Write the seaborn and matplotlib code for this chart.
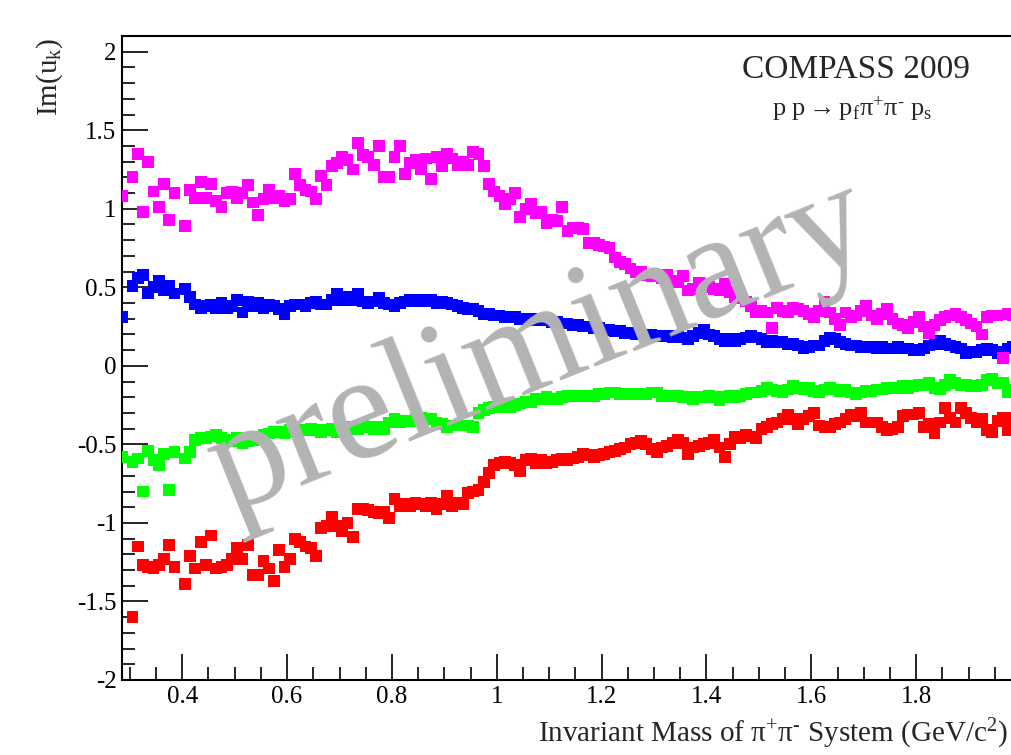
import numpy as np
import pandas as pd
import matplotlib
matplotlib.use("Agg")
import matplotlib.pyplot as plt
import seaborn as sns
from matplotlib.ticker import MultipleLocator, FixedLocator, FuncFormatter

nan = np.nan

# bin centres of the pi+ pi- invariant mass (10 MeV bins)
mass = np.round(np.arange(0.285, 2.0, 0.01), 3)
x_ticks = [0.4, 0.6, 0.8, 1.0, 1.2, 1.4, 1.6, 1.8]

magenta_vals = [
    1.08, nan, 1.20, 1.35, 0.98, 1.30, 1.11, 1.01, 1.16, 0.93,
    1.10, nan, 0.89, 1.12, 1.07, 1.17, 1.07, 1.16, 1.05, 1.01,
    1.10, 1.11, 1.07, 1.10, 1.15, 1.04, 0.96, 1.06, 1.12, 1.07,
    1.08, 1.05, 1.06, 1.22, 1.15, 1.12, 1.11, 1.06, 1.21, 1.15,
    1.27, 1.29, 1.33, 1.31, 1.25, 1.42, 1.34, 1.33, 1.28, 1.40,
    1.20, 1.20, 1.33, 1.40, 1.22, 1.29, 1.31, 1.25, 1.32, 1.19,
    1.33, 1.27, 1.35, 1.32, 1.28, 1.30, 1.28, 1.36, 1.35, 1.27,
    1.16, 1.11, 1.08, 1.03, 1.06, 1.10, 0.95, 1.00, 1.03, 0.97,
    0.98, 0.91, 0.93, 0.92, 1.01, 0.86, 0.88, 0.88, 0.87, 0.78,
    0.78, 0.77, 0.76, 0.75, 0.69, 0.66, 0.65, 0.62, 0.60, 0.60,
    0.58, 0.57, 0.57, 0.56, 0.58, 0.54, 0.53, 0.57, 0.48, 0.49,
    0.53, 0.52, 0.50, 0.49, 0.48, 0.52, 0.47, 0.44, 0.43, 0.41,
    0.38, 0.34, 0.35, 0.34, 0.24, 0.37, 0.35, 0.34, 0.37, 0.36,
    0.35, 0.33, 0.31, 0.35, 0.41, 0.34, 0.30, 0.26, 0.34, 0.31,
    0.32, 0.35, 0.38, 0.32, 0.30, 0.33, 0.36, 0.30, 0.27, 0.26,
    0.24, 0.28, 0.31, 0.25, 0.21, 0.26, 0.29, 0.31, 0.32, 0.33,
    0.31, 0.29, 0.27, 0.25, 0.20, 0.31, 0.32, 0.32, 0.05, 0.33,
    0.32, 0.33,
]

blue_vals = [
    0.31, nan, 0.51, 0.56, 0.58, 0.46, 0.50, 0.54, 0.48, 0.51,
    0.46, nan, 0.49, 0.44, 0.39, 0.37, 0.38, 0.39, 0.37, 0.40,
    0.37, 0.38, 0.42, 0.34, 0.41, 0.38, 0.40, 0.37, 0.39, 0.38,
    0.36, 0.33, 0.38, 0.39, 0.39, 0.38, 0.40, 0.41, 0.39, 0.39,
    0.42, 0.46, 0.42, 0.44, 0.42, 0.46, 0.41, 0.40, 0.41, 0.43,
    0.40, 0.39, 0.38, 0.40, 0.41, 0.42, 0.41, 0.42, 0.41, 0.42,
    0.40, 0.41, 0.40, 0.39, 0.38, 0.37, 0.36, 0.36, 0.35, 0.33,
    0.33, 0.32, 0.32, 0.31, 0.31, 0.31, 0.30, 0.30, 0.30, 0.29,
    0.29, 0.29, 0.28, 0.28, 0.27, 0.27, 0.26, 0.26, 0.25, 0.25,
    0.24, 0.24, 0.23, 0.23, 0.22, 0.22, 0.21, 0.21, 0.20, 0.20,
    0.20, 0.20, 0.19, 0.19, 0.19, 0.18, 0.19, 0.18, 0.17, 0.19,
    0.21, 0.23, 0.20, 0.19, 0.17, 0.16, 0.17, 0.16, 0.17, 0.18,
    0.19, 0.18, 0.17, 0.15, 0.16, 0.15, 0.15, 0.14, 0.14, 0.13,
    0.11, 0.12, 0.13, 0.13, 0.16, 0.18, 0.17, 0.15, 0.14, 0.13,
    0.13, 0.12, 0.12, 0.12, 0.11, 0.12, 0.11, 0.11, 0.12, 0.11,
    0.11, 0.10, 0.10, 0.11, 0.13, 0.14, 0.16, 0.14, 0.13, 0.12,
    0.11, 0.08, 0.09, 0.09, 0.10, 0.11, 0.10, 0.08, 0.09, 0.11,
    0.12, 0.11,
]

green_vals = [
    -0.58, nan, -0.61, -0.59, -0.80, -0.54, -0.60, -0.63, -0.56, -0.79,
    -0.55, nan, -0.59, -0.55, -0.47, -0.46, -0.46, -0.45, -0.44, -0.46,
    -0.47, -0.48, -0.46, -0.49, -0.48, -0.47, -0.45, -0.44, -0.43, -0.42,
    -0.42, -0.43, -0.41, -0.42, -0.41, -0.41, -0.40, -0.41, -0.42, -0.41,
    -0.40, -0.42, -0.41, -0.40, -0.39, -0.40, -0.38, -0.39, -0.40, -0.39,
    -0.40, -0.36, -0.34, -0.36, -0.35, -0.35, -0.34, -0.33, -0.34, -0.34,
    -0.36, -0.37, -0.39, -0.38, -0.38, -0.38, -0.38, -0.39, -0.30, -0.28,
    -0.27, -0.26, -0.25, -0.26, -0.26, -0.25, -0.24, -0.23, -0.23, -0.21,
    -0.21, -0.20, -0.21, -0.21, -0.20, -0.19, -0.19, -0.19, -0.19, -0.19,
    -0.19, -0.18, -0.18, -0.17, -0.17, -0.18, -0.18, -0.18, -0.18, -0.18,
    -0.18, -0.17, -0.17, -0.19, -0.19, -0.19, -0.19, -0.20, -0.20, -0.21,
    -0.20, -0.20, -0.19, -0.20, -0.22, -0.20, -0.19, -0.20, -0.19, -0.18,
    -0.17, -0.17, -0.16, -0.14, -0.15, -0.16, -0.17, -0.15, -0.13, -0.14,
    -0.15, -0.14, -0.16, -0.17, -0.15, -0.14, -0.15, -0.16, -0.15, -0.17,
    -0.18, -0.17, -0.16, -0.16, -0.15, -0.15, -0.14, -0.14, -0.14, -0.13,
    -0.14, -0.13, -0.12, -0.12, -0.11, -0.14, -0.15, -0.12, -0.09, -0.11,
    -0.12, -0.12, -0.13, -0.13, -0.12, -0.09, -0.08, -0.11, -0.11, -0.17,
    -0.15, -0.14,
]

red_vals = [
    nan, nan, -1.60, -1.15, -1.27, -1.28, -1.29, -1.27, -1.23, -1.14,
    -1.28, nan, -1.39, -1.21, -1.29, -1.12, -1.27, -1.08, -1.29, -1.28,
    -1.27, -1.23, -1.16, -1.23, -1.14, -1.33, -1.33, -1.24, -1.29, -1.37,
    -1.17, -1.28, -1.23, -1.10, -1.12, -1.15, -1.16, -1.21, -1.03, -1.02,
    -0.96, -1.02, -1.05, -1.00, -1.09, -0.91, -0.91, -0.92, -0.93, -0.94,
    -0.93, -0.97, -0.85, -0.89, -0.88, -0.89, -0.87, -0.88, -0.89, -0.87,
    -0.91, -0.88, -0.83, -0.89, -0.87, -0.88, -0.81, -0.80, -0.79, -0.74,
    -0.68, -0.63, -0.62, -0.61, -0.62, -0.63, -0.67, -0.60, -0.59, -0.62,
    -0.60, -0.62, -0.61, -0.60, -0.59, -0.60, -0.59, -0.58, -0.56, -0.57,
    -0.58, -0.57, -0.56, -0.55, -0.54, -0.53, -0.52, -0.50, -0.49, -0.48,
    -0.50, -0.53, -0.55, -0.52, -0.51, -0.49, -0.47, -0.49, -0.56, -0.52,
    -0.51, -0.50, -0.49, -0.47, -0.52, -0.58, -0.50, -0.45, -0.46, -0.44,
    -0.45, -0.46, -0.40, -0.39, -0.37, -0.36, -0.34, -0.31, -0.34, -0.37,
    -0.34, -0.32, -0.30, -0.38, -0.39, -0.39, -0.37, -0.36, -0.34, -0.31,
    -0.32, -0.30, -0.36, -0.36, -0.36, -0.39, -0.41, -0.40, -0.39, -0.32,
    -0.31, -0.31, -0.30, -0.39, -0.37, -0.43, -0.36, -0.27, -0.33, -0.36,
    -0.27, -0.30, -0.33, -0.36, -0.34, -0.41, -0.42, -0.35, -0.33, -0.41,
    -0.33, -0.32,
]

series_colors = {"red": "#ff0000", "green": "#00ff00", "blue": "#0000ff", "magenta": "#ff00ff"}

# draw order: red first, magenta last (on top)
frames = []
for name, vals in [("red", red_vals), ("green", green_vals),
                   ("blue", blue_vals), ("magenta", magenta_vals)]:
    frames.append(pd.DataFrame({"mass": mass, "im": vals, "series": name}))
df = pd.concat(frames, ignore_index=True).dropna()

sns.set_theme(style="white")
plt.rcParams["font.family"] = ["Liberation Serif", "DejaVu Serif"]
plt.rcParams["mathtext.fontset"] = "custom"
plt.rcParams["mathtext.rm"] = "Liberation Serif"
plt.rcParams["mathtext.it"] = "Liberation Serif:italic"
plt.rcParams["mathtext.bf"] = "Liberation Serif:bold"
plt.rcParams["axes.unicode_minus"] = False

fig = plt.figure(figsize=(10.12, 7.55), dpi=100)
ax = fig.add_axes([122 / 1012, 75 / 755, 899 / 1012, 644 / 755])

sns.scatterplot(data=df, x="mass", y="im", hue="series", palette=series_colors,
                marker="s", s=72, linewidth=0, legend=False, ax=ax, zorder=3)

ax.set_xlim(0.285, 2.0)
ax.set_ylim(-2.0, 2.1)
ax.set_xlabel("")
ax.set_ylabel("")

ax.xaxis.set_major_locator(FixedLocator(x_ticks))
ax.xaxis.set_minor_locator(MultipleLocator(0.05))
ax.yaxis.set_major_locator(MultipleLocator(0.5))
ax.yaxis.set_minor_locator(MultipleLocator(0.1))
fmt = FuncFormatter(lambda v, p: "%g" % round(v, 3))
ax.xaxis.set_major_formatter(fmt)
ax.yaxis.set_major_formatter(fmt)

ax.tick_params(which="both", direction="in", color="black", width=1.2,
               labelsize=18, labelcolor="black",
               left=True, bottom=True, top=False, right=False)
ax.tick_params(which="major", length=18.5, pad=4)
ax.tick_params(which="minor", length=9.5)
for sp in ax.spines.values():
    sp.set_color("black")
    sp.set_linewidth(1.5)

ax.text(-0.080, 0.998, r"Im(u$_{\mathrm{k}}$)", transform=ax.transAxes,
        rotation=90, ha="center", va="top", fontsize=21)
ax.text((538 - 122) / 899, -0.0963,
        r"Invariant Mass of π$^{\text{+}}$π$^{\text{-}}$ System (GeV/c$^{\text{2}}$)",
        transform=ax.transAxes, ha="left", va="baseline", fontsize=21)

fig.text(0.846, 1 - 78 / 755, "COMPASS 2009", ha="center", va="baseline", fontsize=24)
fig.text(0.842, 1 - 116 / 755,
         r"p p$\rightarrow$p$_{\text{f}}$π$^{\text{+}}$π$^{\text{-}}$ p$_{\text{s}}$",
         ha="center", va="baseline", fontsize=19)

ax.text(0.465, 0.515, "preliminary", transform=ax.transAxes, rotation=22,
        ha="center", va="center", fontsize=108, color="#b3b3b3", zorder=5)

fig.savefig("out.png", dpi=100)
